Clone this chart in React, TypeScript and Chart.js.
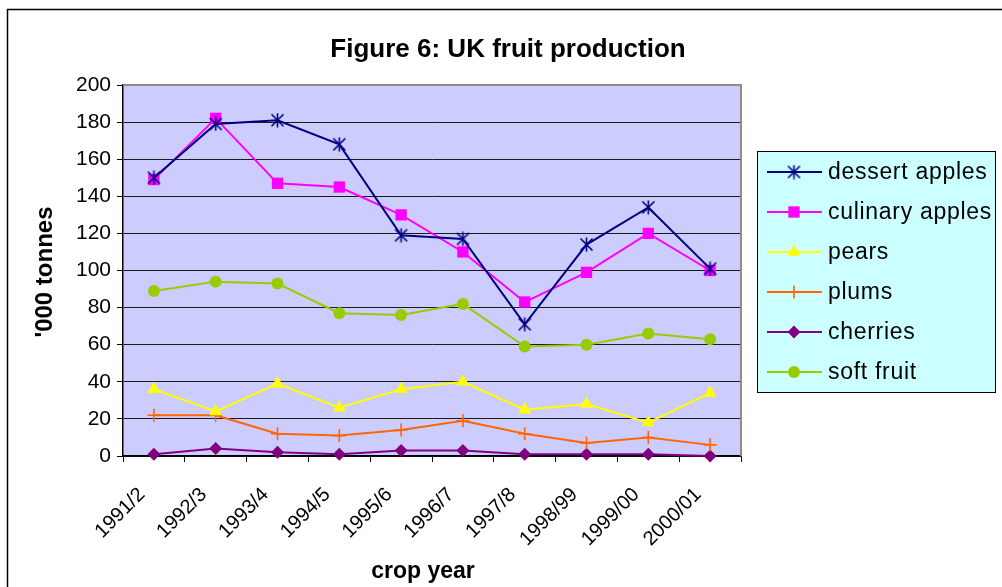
import React, { useEffect, useRef } from 'react';
import { Chart, registerables } from 'chart.js';

Chart.register(...registerables);

const FONT = '"Liberation Sans", Arial, sans-serif';

const cropYears = ['1991/2', '1992/3', '1993/4', '1994/5', '1995/6', '1996/7', '1997/8', '1998/99', '1999/00', '2000/01'];
const dessertApples = [150, 179, 181, 168, 119, 117, 71, 114, 134, 101];
const culinaryApples = [149, 182, 147, 145, 130, 110, 83, 99, 120, 100];
const pears = [36, 24, 39, 26, 36, 40, 25, 28, 18, 34];
const plums = [22, 22, 12, 11, 14, 19, 12, 7, 10, 6];
const cherries = [1, 4, 2, 1, 3, 3, 1, 1, 1, 0];
const softFruit = [89, 94, 93, 77, 76, 82, 59, 60, 66, 63];

const seriesNames = ['dessert apples', 'culinary apples', 'pears', 'plums', 'cherries', 'soft fruit'];
const yTicks = { min: 0, max: 200, step: 20 };

// Six-armed asterisk marker (an X with a vertical bar)
function makeAsterisk(size: number, color: string, lw: number): HTMLCanvasElement {
  const c = document.createElement('canvas');
  c.width = size;
  c.height = size;
  const g = c.getContext('2d')!;
  g.strokeStyle = color;
  g.lineWidth = lw;
  const m = 1.5;
  g.beginPath();
  g.moveTo(m, m);
  g.lineTo(size - m, size - m);
  g.moveTo(size - m, m);
  g.lineTo(m, size - m);
  g.moveTo(size / 2, 0.5);
  g.lineTo(size / 2, size - 0.5);
  g.stroke();
  return c;
}

function drawMarker(ctx: CanvasRenderingContext2D, style: any, r: number, x: number, y: number, fill: string, stroke: string, bw: number) {
  ctx.save();
  ctx.fillStyle = fill;
  ctx.strokeStyle = stroke;
  ctx.lineWidth = bw;
  if (style instanceof HTMLCanvasElement) {
    ctx.drawImage(style, x - style.width / 2, y - style.height / 2);
    ctx.restore();
    return;
  }
  ctx.beginPath();
  if (style === 'rect') {
    const s = r * Math.SQRT1_2;
    ctx.rect(x - s, y - s, 2 * s, 2 * s);
    ctx.fill();
  } else if (style === 'triangle') {
    for (let i = 0; i < 3; i++) {
      const a = (i * 2 * Math.PI) / 3;
      const px = x + Math.sin(a) * r;
      const py = y - Math.cos(a) * r;
      if (i === 0) ctx.moveTo(px, py); else ctx.lineTo(px, py);
    }
    ctx.closePath();
    ctx.fill();
  } else if (style === 'rectRot') {
    ctx.moveTo(x, y - r);
    ctx.lineTo(x + r, y);
    ctx.lineTo(x, y + r);
    ctx.lineTo(x - r, y);
    ctx.closePath();
    ctx.fill();
  } else if (style === 'circle') {
    ctx.arc(x, y, r, 0, Math.PI * 2);
    ctx.fill();
  } else if (style === 'cross') {
    ctx.moveTo(x, y - r);
    ctx.lineTo(x, y + r);
    ctx.moveTo(x - r, y);
    ctx.lineTo(x + r, y);
    ctx.stroke();
  }
  ctx.restore();
}

const decorPlugin = {
  id: 'decor',
  beforeDraw(chart: any) {
    const { ctx, chartArea: a } = chart;
    ctx.save();
    ctx.fillStyle = '#ffffff';
    ctx.fillRect(0, 0, chart.width, chart.height);
    // outer frame
    ctx.strokeStyle = '#000000';
    ctx.lineWidth = 1.5;
    ctx.strokeRect(7.5, 9.5, chart.width + 40, chart.height + 40);
    // plot background
    ctx.fillStyle = '#CCCCFF';
    ctx.fillRect(a.left, a.top, a.right - a.left, a.bottom - a.top);
    // titles
    ctx.fillStyle = '#000000';
    ctx.textAlign = 'center';
    ctx.textBaseline = 'middle';
    ctx.font = `bold 26px ${FONT}`;
    ctx.fillText('Figure 6: UK fruit production', 508, 50);
    ctx.font = `bold 23px ${FONT}`;
    ctx.fillText('crop year', 423, 572);
    ctx.save();
    ctx.translate(45, 272);
    ctx.rotate(-Math.PI / 2);
    ctx.font = `bold 24px ${FONT}`;
    ctx.fillText("'000 tonnes", 0, 0);
    ctx.restore();
    ctx.restore();
  },
  beforeDatasetsDraw(chart: any) {
    const { ctx, chartArea: a } = chart;
    ctx.save();
    ctx.strokeStyle = '#8c8c8c';
    ctx.lineWidth = 2;
    ctx.beginPath();
    ctx.moveTo(a.left, a.top);
    ctx.lineTo(a.right, a.top);
    ctx.lineTo(a.right, a.bottom);
    ctx.stroke();
    ctx.restore();
  },
  afterDraw(chart: any) {
    const { ctx } = chart;
    const bx = 757, by = 151, bw = 238, bh = 241;
    ctx.save();
    ctx.fillStyle = '#CCFFFF';
    ctx.fillRect(bx, by, bw, bh);
    ctx.strokeStyle = '#000000';
    ctx.lineWidth = 1;
    ctx.strokeRect(bx + 0.5, by + 0.5, bw, bh);
    ctx.font = `23px ${FONT}`;
    (ctx as any).letterSpacing = '0.7px';
    ctx.textAlign = 'left';
    ctx.textBaseline = 'middle';
    chart.data.datasets.forEach((ds: any, i: number) => {
      const y = 172 + i * 40;
      ctx.strokeStyle = ds.borderColor;
      ctx.lineWidth = 2;
      ctx.beginPath();
      ctx.moveTo(767, y);
      ctx.lineTo(822, y);
      ctx.stroke();
      drawMarker(ctx, ds.pointStyle, ds.pointRadius, 794, y, ds.pointBackgroundColor, ds.pointBorderColor, ds.pointBorderWidth);
      ctx.fillStyle = '#000000';
      ctx.fillText(ds.label, 828, y + 1);
    });
    ctx.restore();
  },
};

export default function App() {
  const ref = useRef<HTMLCanvasElement>(null);

  useEffect(() => {
    const canvas = ref.current!;
    const asterisk = makeAsterisk(15, '#000080', 1.6);

    const mk = (label: string, data: number[], color: string, style: any, radius: number, borderW = 0) => ({
      label,
      data,
      borderColor: color,
      backgroundColor: color,
      borderWidth: 2,
      pointStyle: style,
      pointRadius: radius,
      pointHoverRadius: radius,
      pointBackgroundColor: color,
      pointBorderColor: color,
      pointBorderWidth: borderW,
      tension: 0,
      clip: false as any,
    });

    const chart = new Chart(canvas, {
      type: 'line',
      data: {
        labels: cropYears,
        datasets: [
          mk(seriesNames[0], dessertApples, '#000080', asterisk, 7),
          mk(seriesNames[1], culinaryApples, '#FF00FF', 'rect', 8),
          mk(seriesNames[2], pears, '#FFFF00', 'triangle', 7.5),
          mk(seriesNames[3], plums, '#FF6600', 'cross', 6.5, 1.6),
          mk(seriesNames[4], cherries, '#800080', 'rectRot', 6.5),
          mk(seriesNames[5], softFruit, '#99CC00', 'circle', 6),
        ],
      },
      options: {
        responsive: false,
        animation: false,
        devicePixelRatio: 1,
        layout: { padding: { left: 0, top: 85, right: 261, bottom: 0 } },
        plugins: {
          legend: { display: false },
          title: { display: false },
          tooltip: { enabled: false },
        },
        scales: {
          x: {
            type: 'category',
            offset: true,
            afterFit(scale: any) {
              scale.height = 131;
            },
            grid: {
              display: true,
              offset: true,
              drawOnChartArea: false,
              drawTicks: true,
              tickLength: 6,
              tickColor: '#000000',
            },
            border: { display: true, color: '#000000', width: 1.5 },
            ticks: {
              color: '#000000',
              font: { family: FONT, size: 20 },
              minRotation: 45,
              maxRotation: 45,
              autoSkip: false,
              padding: 21,
              labelOffset: -12,
            },
          },
          y: {
            min: yTicks.min,
            max: yTicks.max,
            afterFit(scale: any) {
              scale.width = 123;
            },
            grid: {
              color: '#1a1a1a',
              lineWidth: 1,
              drawTicks: true,
              tickLength: 6,
              tickColor: '#000000',
            },
            border: { display: true, color: '#000000', width: 1.5 },
            ticks: {
              stepSize: yTicks.step,
              color: '#000000',
              font: { family: FONT, size: 21 },
              padding: 6,
            },
          },
        },
      },
      plugins: [decorPlugin],
    });

    return () => chart.destroy();
  }, []);

  return (
    <div style={{ position: 'absolute', left: 0, top: 0, width: 1002, height: 587, background: '#fff' }}>
      <canvas ref={ref} width={1002} height={587} style={{ display: 'block' }} />
    </div>
  );
}
